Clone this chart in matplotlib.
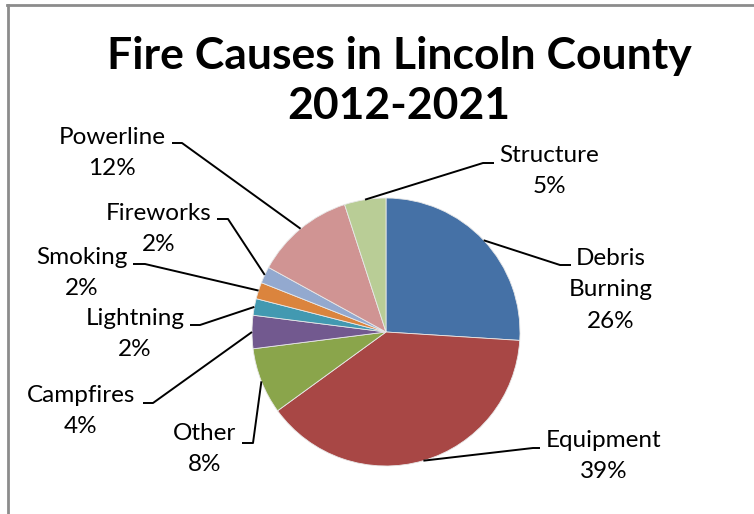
import numpy as np
import matplotlib
matplotlib.use("Agg")
import matplotlib.pyplot as plt

# --- data ---
causes = ["Debris\nBurning", "Equipment", "Other", "Campfires", "Lightning",
          "Smoking", "Fireworks", "Powerline", "Structure"]
percents = [26, 39, 8, 4, 2, 2, 2, 12, 5]
colors = ["#4571A6", "#A84745", "#8AA54B", "#72598F", "#4299B1",
          "#DB843D", "#93A9CF", "#D09493", "#B9CD96"]

# --- layout (pixels from top-left) ---
W, H = 754, 514
center_px = (386, 332)
radius_px = 134
# text centre (x, y) and leader elbow (x, y) + horizontal tail end x
label_pos = [(611, 290), (604, 456), (205, 449), (81, 411), (135, 334),
             (82, 273), (159, 229), (112, 153), (549, 171)]
elbows = [(560, 265, 571), (533, 448, 540), (253, 443, 242), (153, 403, 143),
          (200, 325, 190), (145, 264, 133), (228, 219, 217), (182, 143, 172),
          (483, 163, 494)]

plt.rcParams['font.family'] = ['Lato', 'DejaVu Sans']

fig = plt.figure(figsize=(W / 100, H / 100), dpi=100)
ax = fig.add_axes([0, 0, 1, 1])

wedges, _ = ax.pie(percents, colors=colors, startangle=90, counterclock=False,
                   radius=radius_px, center=(center_px[0], H - center_px[1]),
                   wedgeprops=dict(edgecolor="#e8e8e8", linewidth=0.6))
ax.set_xlim(0, W)
ax.set_ylim(0, H)
ax.set_aspect('equal')
ax.axis('off')

for w, name, pct, (tx, ty), (ex, ey, tail) in zip(wedges, causes, percents,
                                                  label_pos, elbows):
    mid = np.deg2rad((w.theta1 + w.theta2) / 2)
    sx = center_px[0] + radius_px * np.cos(mid)
    sy = (H - center_px[1]) + radius_px * np.sin(mid)
    ax.plot([sx, ex, tail], [sy, H - ey, H - ey], color="black", lw=1.4,
            solid_capstyle='butt')
    ax.text(tx, H - ty, f"{name}\n{pct}%", ha="center", va="center",
            fontsize=17.5, linespacing=1.62, multialignment="center")

ax.text(399, H - 81, "Fire Causes in Lincoln County\n2012-2021", ha="center",
        va="center", fontsize=32, fontweight="bold", linespacing=1.32)

# chart frame (top and left edges visible)
ax.plot([7, W], [H - 4.5, H - 4.5], color="#8c8c8c", lw=2, clip_on=False)
ax.plot([7.5, 7.5], [0, H - 4.5], color="#8c8c8c", lw=2, clip_on=False)

fig.savefig("out.png", dpi=100)
